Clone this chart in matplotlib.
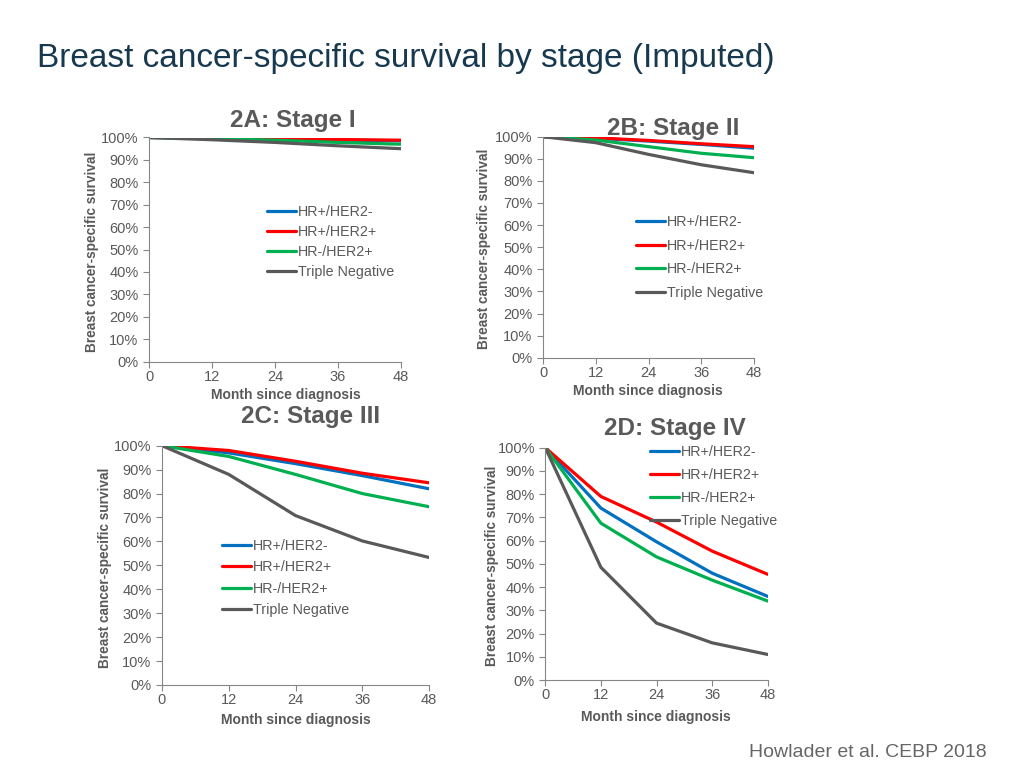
import matplotlib.pyplot as plt
from matplotlib.ticker import PercentFormatter

plt.rcParams['font.family'] = ['Liberation Sans', 'DejaVu Sans']

months = [0, 12, 24, 36, 48]
groups = ['HR+/HER2-', 'HR+/HER2+', 'HR-/HER2+', 'Triple Negative']
colors = ['#0070c0', '#ff0000', '#00b050', '#595959']

# survival (%) per stage, order: HR+/HER2-, HR+/HER2+, HR-/HER2+, Triple Negative
stage1 = [[100, 99.7, 99.3, 98.9, 98.5],
          [100, 99.8, 99.5, 99.1, 98.8],
          [100, 99.5, 98.8, 97.8, 97.0],
          [100, 99.0, 97.8, 96.3, 95.0]]
stage2 = [[100, 99.3, 98.0, 96.5, 94.8],
          [100, 99.5, 98.3, 96.8, 95.5],
          [100, 98.5, 95.5, 92.5, 90.5],
          [100, 97.3, 92.0, 87.3, 83.7]]
stage3 = [[100, 97.0, 92.5, 87.5, 82.0],
          [100, 98.0, 93.5, 88.5, 84.5],
          [100, 95.5, 88.0, 80.0, 74.5],
          [100, 88.0, 70.8, 60.2, 53.3]]
stage4 = [[100, 74.0, 59.5, 46.0, 36.0],
          [100, 79.0, 68.0, 55.5, 45.5],
          [100, 67.5, 53.0, 43.0, 34.0],
          [100, 48.5, 24.5, 16.0, 11.0]]

W, H = 1024, 768
fig = plt.figure(figsize=(W / 100, H / 100), dpi=100)

gray = '#595959'

# name, data, axes box (px: left, top, right, bottom), title pos, legend (x, y, spacing), ylabel x, xlabel (x, y)
panels = [
    ('2A: Stage I', stage1, (149, 137.5, 401, 361.5), (293, 120), (267, 205, 0.42), 92, (286, 395)),
    ('2B: Stage II', stage2, (543, 136.7, 754, 357.7), (673, 128), (636, 215, 0.68), 484, (648, 391)),
    ('2C: Stage III', stage3, (162, 445.7, 429, 685), (311, 417), (222, 539, 0.52), 105, (296, 720)),
    ('2D: Stage IV', stage4, (545.3, 447.7, 767.7, 680), (675, 428), (650, 445, 0.64), 492, (656, 717)),
]

for title, data, (l, t, r, b), (tx, ty), (lx, ly, lsp), ylx, (xlx, xly) in panels:
    ax = fig.add_axes([l / W, 1 - b / H, (r - l) / W, (b - t) / H])
    for vals, name, c in zip(data, groups, colors):
        ax.plot(months, vals, color=c, lw=2.3, label=name, solid_capstyle='round')
    ax.set_xlim(0, 48)
    ax.set_ylim(0, 100)
    ax.set_xticks(months)
    ax.set_yticks(range(0, 101, 10))
    ax.yaxis.set_major_formatter(PercentFormatter(decimals=0))
    for s in ['top', 'right']:
        ax.spines[s].set_visible(False)
    for s in ['left', 'bottom']:
        ax.spines[s].set_color('#868686')
    ax.tick_params(colors='#868686', labelcolor=gray, labelsize=10.5, length=4)
    ax.tick_params(axis='x', pad=2)
    ax.legend(loc='upper left', bbox_to_anchor=(lx / W, 1 - ly / H),
              bbox_transform=fig.transFigure, frameon=False, fontsize=10.3,
              labelcolor=gray, handlelength=2.0, handletextpad=0.15,
              labelspacing=lsp, borderpad=0, borderaxespad=0)
    fig.text(tx / W, 1 - ty / H, title, ha='center', va='center',
             fontsize=17.5, fontweight='bold', color=gray)
    fig.text(ylx / W, 1 - ((t + b) / 2 + 2) / H, 'Breast cancer-specific survival',
             rotation=90, ha='center', va='center', fontsize=9.8,
             fontweight='bold', color=gray)
    fig.text(xlx / W, 1 - xly / H, 'Month since diagnosis',
             ha='center', va='center', fontsize=10, fontweight='bold', color=gray)

fig.text(37 / W, 1 - 67 / H, 'Breast cancer-specific survival by stage (Imputed)',
         ha='left', va='baseline', fontsize=24, color='#17394f')
fig.text(749 / W, 1 - 757 / H, 'Howlader et al. CEBP 2018',
         ha='left', va='baseline', fontsize=14, color='#666666')

fig.savefig('out.png', dpi=100)
